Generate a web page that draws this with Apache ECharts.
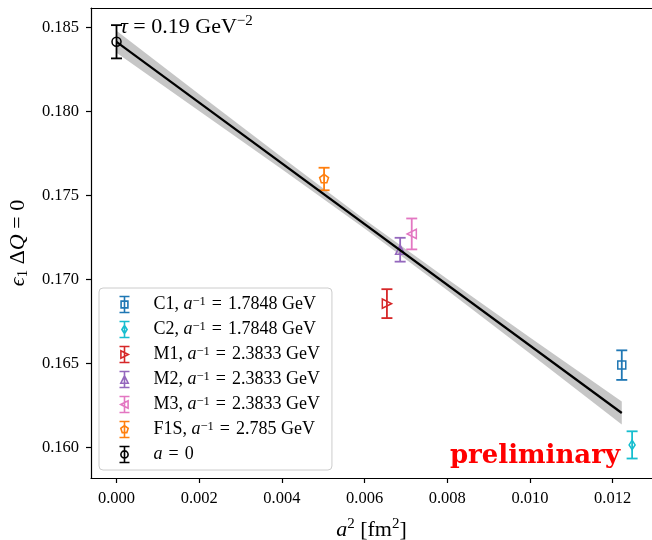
<!DOCTYPE html>
<html>
<head>
<meta charset="utf-8">
<script src="https://cdn.jsdelivr.net/npm/echarts@6/dist/echarts.min.js"></script>
<style>html,body{margin:0;padding:0;background:#fff}#c{width:652px;height:540px}</style>
</head>
<body>
<div id="c"></div>
<script>
// ---- data ----
const xTicks = [0, 0.002, 0.004, 0.006, 0.008, 0.010, 0.012];
const yTicks = [0.160, 0.165, 0.170, 0.175, 0.180, 0.185];

// [a^2, value, error]
const C1 = [[0.01222, 0.16489, 0.00088]];
const C2 = [[0.01247, 0.16014, 0.00081]];
const M1 = [[0.00654, 0.16855, 0.00086]];
const M2 = [[0.00686, 0.17176, 0.00071]];
const M3 = [[0.00714, 0.17270, 0.00092]];
const F1S = [[0.00502, 0.17597, 0.00067]];
const A0 = [[0.0, 0.18414, 0.00099]];

// continuum fit line and error band
const fitLine = [[0.0, 0.18414], [0.01222, 0.16204]];
const bandX = [0.0, 0.002, 0.004, 0.006, 0.008, 0.010, 0.01222];
const bandLower = [0.18349, 0.18002, 0.17655, 0.17302, 0.16935, 0.16558, 0.16136];
const bandUpper = [0.18479, 0.18102, 0.17727, 0.17356, 0.17001, 0.16654, 0.16272];

const seriesNames = ['C1', 'C2', 'M1', 'M2', 'M3', 'F1S', 'a = 0'];
const EQ = '\u2004=\u2004';
const legendLabels = {
  'C1': 'C1, {i|a}{sup|−1}' + EQ + '1.7848 GeV',
  'C2': 'C2, {i|a}{sup|−1}' + EQ + '1.7848 GeV',
  'M1': 'M1, {i|a}{sup|−1}' + EQ + '2.3833 GeV',
  'M2': 'M2, {i|a}{sup|−1}' + EQ + '2.3833 GeV',
  'M3': 'M3, {i|a}{sup|−1}' + EQ + '2.3833 GeV',
  'F1S': 'F1S, {i|a}{sup|−1}' + EQ + '2.785 GeV',
  'a = 0': '{i|a}' + EQ + '0'
};
// ---------------------------------------

const FONT = 'Liberation Serif, DejaVu Serif, serif';
const colors = {C1:'#1f77b4', C2:'#17becf', M1:'#d62728', M2:'#9467bd', M3:'#e377c2', F1S:'#ff7f0e', 'a = 0':'#000000'};
const shapes = {C1:'square', C2:'thin_diamond', M1:'tri_right', M2:'tri_up', M3:'tri_left', F1S:'pentagon', 'a = 0':'circle'};
const dataMap = {C1, C2, M1, M2, M3, F1S, 'a = 0': A0};

function markerEl(shape, cx, cy, color) {
  const st = {stroke: color, fill: 'none', lineWidth: 1.5};
  const s = 4.6;
  switch (shape) {
    case 'circle': return {type:'circle', shape:{cx, cy, r:4.5}, style:st};
    case 'square': return {type:'rect', shape:{x:cx-4, y:cy-4, width:8, height:8}, style:st};
    case 'thin_diamond': return {type:'polygon', shape:{points:[[cx,cy-4.8],[cx+3,cy],[cx,cy+4.8],[cx-3,cy]]}, style:st};
    case 'tri_right': return {type:'polygon', shape:{points:[[cx+s,cy],[cx-s,cy-s],[cx-s,cy+s]]}, style:st};
    case 'tri_up': return {type:'polygon', shape:{points:[[cx,cy-s],[cx+s,cy+s],[cx-s,cy+s]]}, style:st};
    case 'tri_left': return {type:'polygon', shape:{points:[[cx-s,cy],[cx+s,cy-s],[cx+s,cy+s]]}, style:st};
    case 'pentagon': {
      const pts = [];
      for (let k = 0; k < 5; k++) {
        const ang = (-90 + 72*k) * Math.PI/180;
        pts.push([cx + 4.7*Math.cos(ang), cy + 4.7*Math.sin(ang)]);
      }
      return {type:'polygon', shape:{points:pts}, style:st};
    }
  }
}

function errRender(name) {
  const color = colors[name], shape = shapes[name];
  return function (params, api) {
    const x = api.value(0), y = api.value(1), e = api.value(2);
    const p = api.coord([x, y]);
    const t = api.coord([x, y + e]);
    const b = api.coord([x, y - e]);
    const cw = 5.5;
    const ls = {stroke: color, lineWidth: 1.8};
    return {type:'group', children:[
      {type:'line', shape:{x1:t[0], y1:t[1], x2:b[0], y2:b[1]}, style:ls},
      {type:'line', shape:{x1:t[0]-cw, y1:t[1], x2:t[0]+cw, y2:t[1]}, style:ls},
      {type:'line', shape:{x1:b[0]-cw, y1:b[1], x2:b[0]+cw, y2:b[1]}, style:ls},
      markerEl(shape, p[0], p[1], color)
    ]};
  };
}

const iconBar = 'M0 0.5H10M5 0.5V16.5M0 16.5H10';
const iconMarker = {
  square: 'M1.6 5.1H8.4V11.9H1.6Z',
  thin_diamond: 'M5 4.3L7.6 8.5L5 12.7L2.4 8.5Z',
  tri_right: 'M8.8 8.5L1.4 4.8L1.4 12.2Z',
  tri_up: 'M5 4.8L8.7 12.2L1.3 12.2Z',
  tri_left: 'M1.2 8.5L8.6 4.8L8.6 12.2Z',
  pentagon: 'M5 4.6L8.71 7.3L7.29 11.66L2.71 11.66L1.29 7.3Z',
  circle: 'M8.6 8.5A3.6 3.6 0 1 1 1.4 8.5A3.6 3.6 0 1 1 8.6 8.5Z'
};

const series = [];
series.push({
  type: 'custom', name: 'band', silent: true, z: 1,
  data: bandX.map((x, i) => [x, bandLower[i], bandUpper[i]]),
  renderItem: function (params, api) {
    if (params.dataIndex !== 0) return null;
    const pts = [];
    for (let i = 0; i < bandX.length; i++) pts.push(api.coord([bandX[i], bandUpper[i]]));
    for (let i = bandX.length - 1; i >= 0; i--) pts.push(api.coord([bandX[i], bandLower[i]]));
    return {type:'polygon', shape:{points:pts}, style:{fill:'#c6c6c6', stroke:'none'}};
  }
});
seriesNames.forEach(function (n) {
  series.push({
    type: 'custom', name: n, z: 3,
    itemStyle: {color: colors[n]},
    data: dataMap[n],
    renderItem: errRender(n)
  });
});
series.push({
  type: 'line', name: 'fit', data: fitLine, symbol: 'none', silent: true, z: 4,
  lineStyle: {color: '#000', width: 2.2}
});

const chart = echarts.init(document.getElementById('c'), null, {renderer: 'canvas'});
chart.setOption({
  animation: false,
  backgroundColor: '#fff',
  grid: {left: 91, right: 0, top: 8, bottom: 62, containLabel: false, outerBoundsMode: 'none'},
  xAxis: [{
    type: 'value', position: 'bottom', min: -0.000617, max: 0.012951,
    axisLine: {show: true, onZero: false, lineStyle: {color: '#000', width: 1.2}},
    axisTick: {show: true, customValues: xTicks, length: 5, lineStyle: {color: '#000', width: 1.2}},
    axisLabel: {customValues: xTicks, formatter: v => v.toFixed(3), color: '#000', fontFamily: FONT, fontSize: 16.5, margin: 12},
    splitLine: {show: false},
    name: '{i|a}{sup|2} [fm{sup|2}]',
    nameLocation: 'middle', nameGap: 39,
    nameTextStyle: {
      color: '#000', fontFamily: FONT, fontSize: 22, lineHeight: 26,
      rich: {
        i: {fontStyle: 'italic', fontFamily: FONT, fontSize: 22, lineHeight: 26},
        sup: {fontFamily: FONT, fontSize: 15, verticalAlign: 'top', lineHeight: 26}
      }
    }
  }, {
    type: 'value', position: 'top', min: -0.000617, max: 0.012951,
    axisLine: {show: true, onZero: false, lineStyle: {color: '#000', width: 1.2}},
    axisTick: {show: false}, axisLabel: {show: false}, splitLine: {show: false}
  }],
  yAxis: [{
    type: 'value', position: 'left', min: 0.15817, max: 0.18615,
    axisLine: {show: true, onZero: false, lineStyle: {color: '#000', width: 1.2}},
    axisTick: {show: true, customValues: yTicks, length: 5, lineStyle: {color: '#000', width: 1.2}},
    axisLabel: {customValues: yTicks, formatter: v => v.toFixed(3), color: '#000', fontFamily: FONT, fontSize: 16.5, margin: 12},
    splitLine: {show: false},
    name: '{i|ϵ}{sub|1} Δ{i|Q} = 0',
    nameLocation: 'middle', nameGap: 58, nameRotate: 90,
    nameTextStyle: {
      color: '#000', fontFamily: FONT, fontSize: 22, lineHeight: 26,
      rich: {
        i: {fontStyle: 'italic', fontFamily: FONT, fontSize: 22, lineHeight: 26},
        sub: {fontFamily: FONT, fontSize: 15, verticalAlign: 'bottom', lineHeight: 26}
      }
    }
  }],
  legend: {
    orient: 'vertical', left: 99, top: 288,
    selectedMode: false,
    itemWidth: 10, itemHeight: 17, itemGap: 4,
    padding: [6, 12, 5, 18],
    backgroundColor: 'rgba(255,255,255,0.85)',
    borderColor: '#cccccc', borderWidth: 1, borderRadius: 4,
    data: seriesNames.map(n => ({
      name: n,
      icon: 'path://' + iconBar + iconMarker[shapes[n]],
      itemStyle: {color: 'none', borderColor: colors[n], borderWidth: 1.6}
    })),
    formatter: n => legendLabels[n],
    textStyle: {
      color: '#000', fontFamily: FONT, fontSize: 18, lineHeight: 18, padding: [0, 0, 0, 19],
      rich: {
        i: {fontStyle: 'italic', fontFamily: FONT, fontSize: 18, lineHeight: 18},
        sup: {fontFamily: FONT, fontSize: 12.5, verticalAlign: 'top', lineHeight: 18}
      }
    }
  },
  graphic: [{
    type: 'text', left: 120, top: 14, z: 10,
    style: {
      text: '{i|τ} = 0.19 GeV{sup|−2}',
      fill: '#000', font: '22px ' + FONT,
      rich: {
        i: {fontStyle: 'italic', fontFamily: FONT, fontSize: 22, lineHeight: 26},
        sup: {fontFamily: FONT, fontSize: 15, verticalAlign: 'top', lineHeight: 26}
      }
    }
  }, {
    type: 'text', right: 32, top: 443, z: 10,
    style: {
      text: 'preliminary', fill: '#ff0000',
      font: 'bold 26px DejaVu Serif, serif'
    }
  }],
  series: series
});
</script>
</body>
</html>
